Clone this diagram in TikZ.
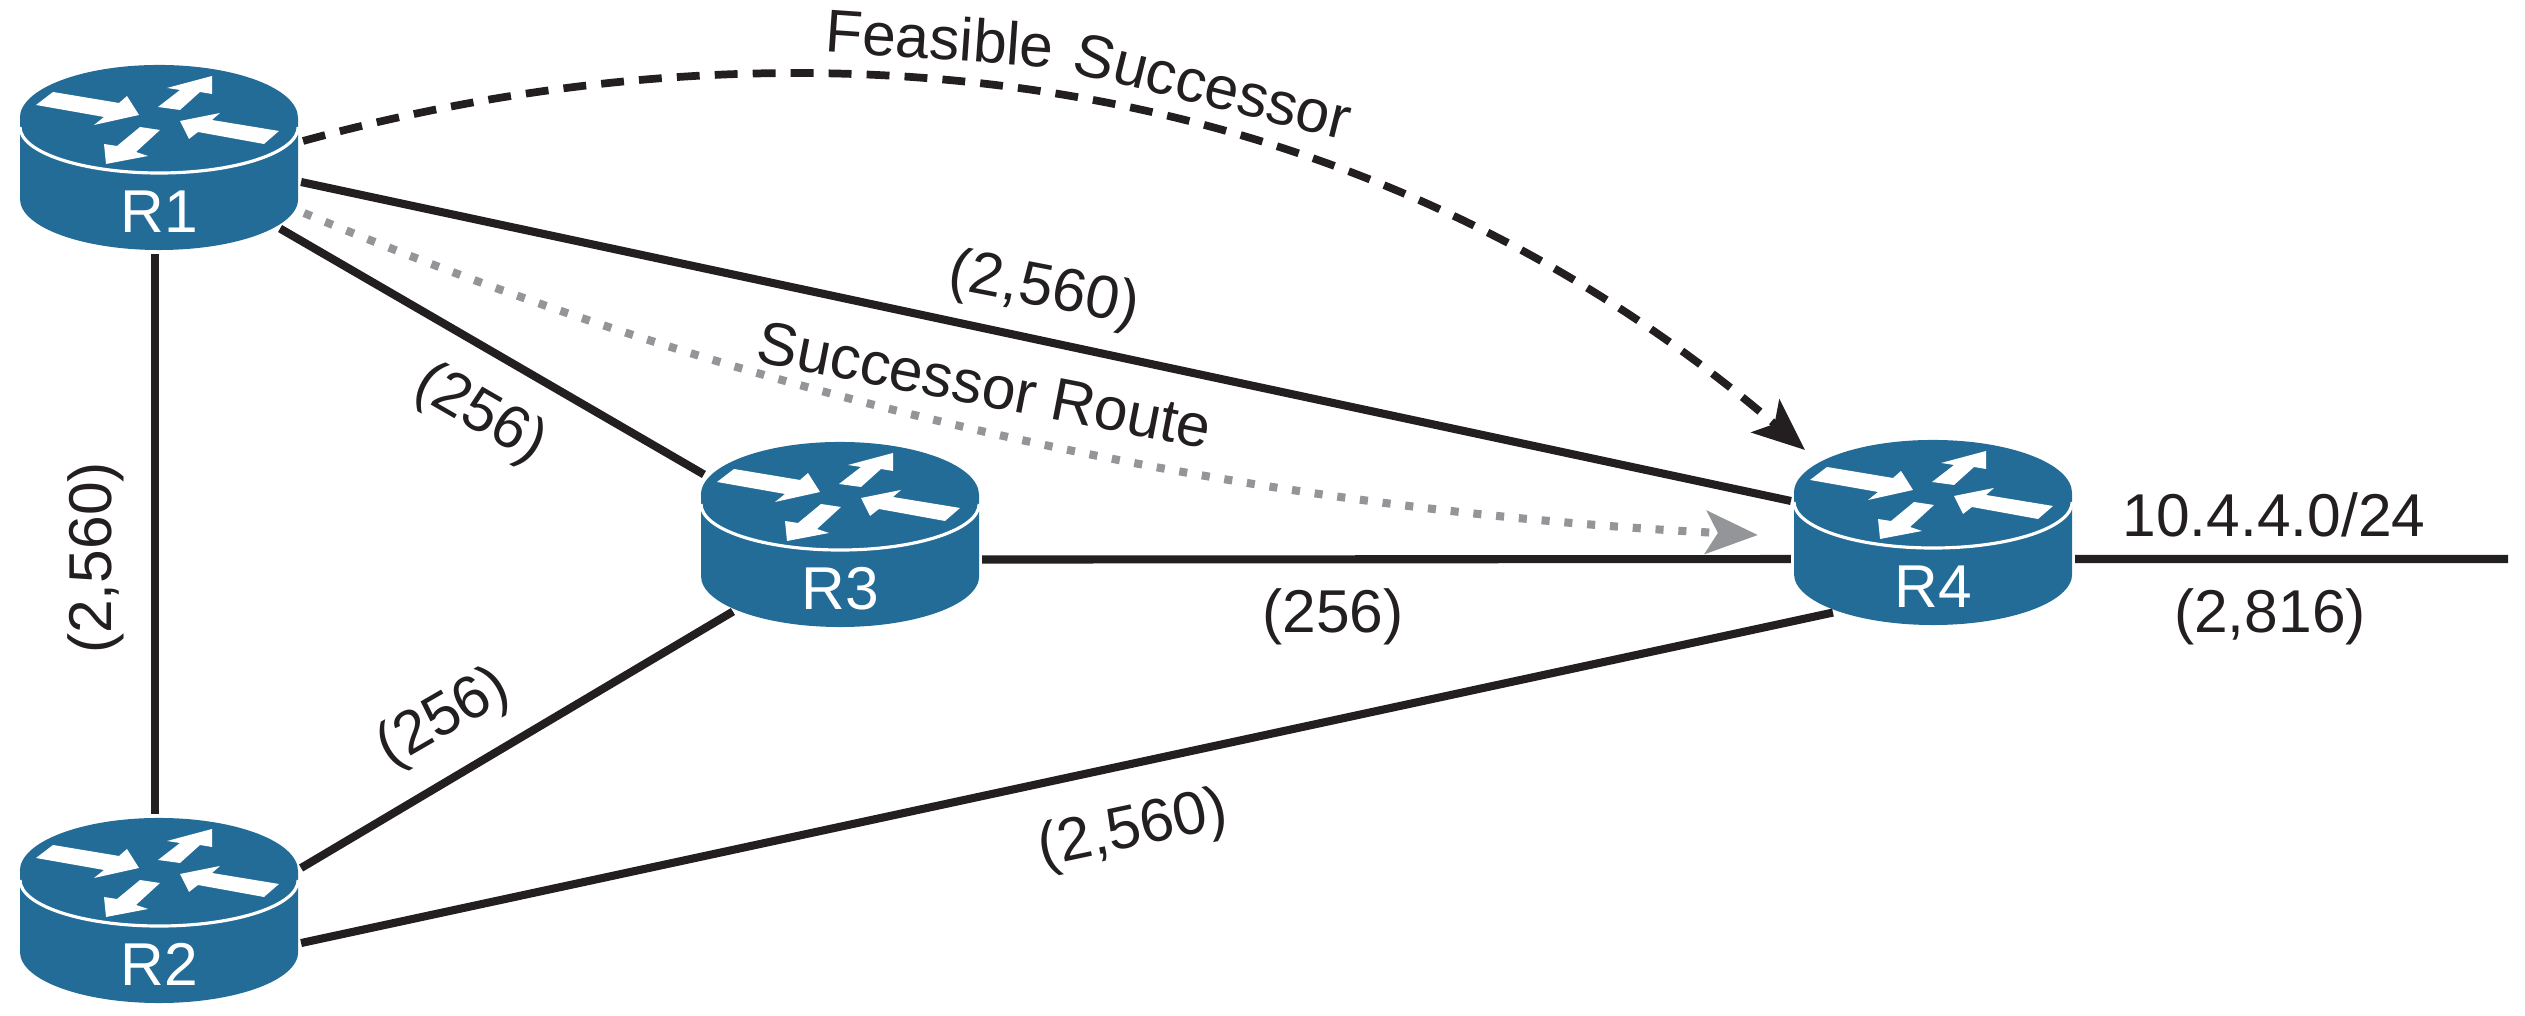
\documentclass[tikz,border=0pt]{standalone}
\usepackage{fontspec}
\setmainfont{Liberation Sans}
\usetikzlibrary{arrows.meta}
\definecolor{routerblue}{HTML}{236C97}
\definecolor{linkblack}{HTML}{231F20}
\definecolor{dotgray}{HTML}{939598}
\tikzset{
  routerbox/.style={inner sep=0,outer sep=0,text=white,text width=2.78cm,align=center,text height=1.67cm,text depth=.18cm},
  router/.pic={
    \begin{scope}[y=.01cm,x=.01cm,yshift=.395cm]
    \fill[routerblue] (-139,0) -- (-139,-81) arc [start angle=180,end angle=360,x radius=1.39cm,y radius=.51cm] -- (139,0) arc [start angle=0,end angle=180,x radius=1.39cm,y radius=.53cm] -- cycle;
    \draw[white,line width=.9pt] (-139,-9) arc [start angle=180,end angle=360,x radius=1.39cm,y radius=.46cm];
    \fill[white] (-123,13) -- (-106,26) -- (-40,15) -- (-32,22) -- (-20,3) -- (-65,-7) -- (-55,1) -- cycle;
    \fill[white] (-1,11) -- (21,28) -- (8,30) -- (53,42) -- (53,24) -- (41,26) -- (21,8) -- cycle;
    \fill[white] (1,-12) -- (-19,-9) -- (-42,-28) -- (-55,-26) -- (-53,-46) -- (-11,-38) -- (-23,-34) -- cycle;
    \fill[white] (120,-13) -- (105,-26) -- (39,-14) -- (30,-21) -- (21,-3) -- (61,5) -- (53,-2) -- cycle;
    \end{scope}
    \node[routerbox] (-n) at (0,0) {#1};
  }
}
\begin{document}
\begin{tikzpicture}[x=.01cm,y=-.01cm,font=\fontsize{17.2}{20}\selectfont,text=linkblack]
\tikzstyle{link} = [draw=linkblack,line width=2.3pt]
\tikzstyle{feasible} = [draw=linkblack,line width=2.2pt,dash pattern=on 6.5pt off 4.3pt,-{Stealth[length=5.2mm,width=4.3mm,inset=1.2mm,fill=linkblack]}]
\tikzstyle{successor} = [draw=dotgray,line width=2.3pt,dash pattern=on 2.3pt off 4.2pt,-{Stealth[length=5.2mm,width=4.3mm,inset=1.2mm,fill=dotgray]}]
\useasboundingbox (0,0) rectangle (2525,1015);
\coordinate (lan) at (2508,559);
\pic (R1) at (159,157.5) {router=R1};
\pic (R2) at (159,910.5) {router=R2};
\pic (R3) at (840,534.5) {router=R3};
\pic (R4) at (1933,532.5) {router=R4};
\draw[link] ([xshift=-.04cm,yshift=-.04cm]R1-n.south) -- ([xshift=-.04cm,yshift=.04cm]R2-n.north);
\draw[link] ([xshift=.03cm,yshift=-.245cm]R1-n.east) -- ([xshift=-.03cm,yshift=.315cm]R4-n.west);
\draw[link] ([xshift=-.18cm,yshift=-.71cm]R1-n.east) -- ([xshift=.03cm,yshift=.6cm]R3-n.west);
\draw[link] ([xshift=.03cm,yshift=.425cm]R2-n.east) -- ([xshift=.32cm,yshift=-.77cm]R3-n.west);
\draw[link] ([xshift=.03cm,yshift=-.325cm]R2-n.east) -- ([xshift=.39cm,yshift=-.8cm]R4-n.west);
\draw[link] ([xshift=.03cm,yshift=-.25cm]R3-n.east) -- ([xshift=-.03cm,yshift=-.265cm]R4-n.west);
\draw[link] ([xshift=.03cm,yshift=-.265cm]R4-n.east) -- (lan);
\draw[feasible] ([xshift=.05cm,yshift=.165cm]R1-n.east) .. controls (800,5) and (1350,60) .. ([xshift=.11cm,yshift=.825cm]R4-n.west);
\draw[successor] ([xshift=.06cm,yshift=-.555cm]R1-n.east) .. controls (790,417) and (1270,510) .. ([xshift=-.36cm,yshift=-.025cm]R4-n.west);
\node[rotate=-4] (feasiblelbl) at (940,38) {Feasible};
\node[rotate=-14] (successorlbl) at (1213,86) {Successor};
\node[rotate=-11] (routelbl) at (985,385) {Successor Route};
\node[rotate=-11] (costa) at (1044,291) {(2,560)};
\node[rotate=-30] (costb) at (480,415) {(256)};
\node[rotate=90] (costc) at (96,558) {(2,560)};
\node[rotate=30] (costd) at (444,719) {(256)};
\node (coste) at (1333,617) {(256)};
\node[rotate=12] (costf) at (1133,831) {(2,560)};
\node (lanlbl) at (2274,515) {10.4.4.0/24};
\node (costg) at (2270,617) {(2,816)};
\end{tikzpicture}
\end{document}
